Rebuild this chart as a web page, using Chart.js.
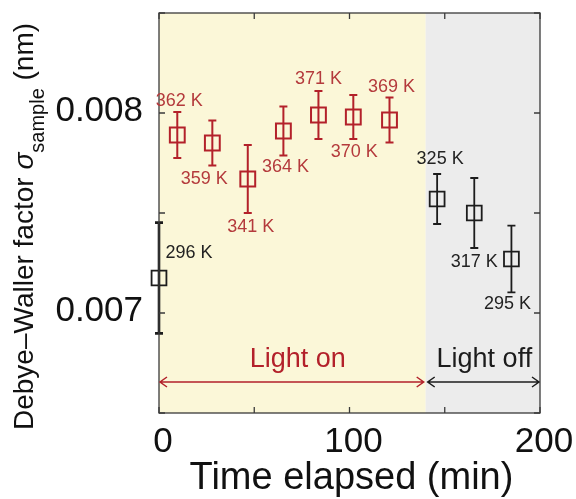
<!DOCTYPE html>
<html><head><meta charset="utf-8">
<script src="https://cdn.jsdelivr.net/npm/chart.js@4.4.0/dist/chart.umd.min.js"></script>
<style>html,body{margin:0;padding:0;background:#fff;}#wrap{width:576px;height:499px;position:relative;}</style>
</head><body><div id="wrap"><canvas id="c"></canvas></div>
<script>
// ---- data ----
const onTimes   = [9.6, 28, 46.6, 65.3, 83.7, 102, 121];
const onValues  = [0.00789, 0.00785, 0.00767, 0.00791, 0.00799, 0.00798, 0.007965];
const onErrors  = [0.000115, 0.000113, 0.00017, 0.000122, 0.00012, 0.00011, 0.000113];
const onLabels  = ['362 K', '359 K', '341 K', '364 K', '371 K', '370 K', '369 K'];
const offTimes  = [0, 146, 165.5, 185];
const offValues = [0.007175, 0.00757, 0.0075, 0.00727];
const offErrors = [0.000277, 0.000125, 0.000175, 0.000167];
const offLabels = ['296 K', '325 K', '317 K', '295 K'];
const xTickValues = [0, 50, 100, 150, 200];
const xTickLabels = ['0', '', '100', '', '200'];
const yTickValues = [0.0065, 0.007, 0.0075, 0.008, 0.0085];
const yTickLabels = ['', '0.007', '', '0.008', ''];
const phaseNames = ['Light on', 'Light off'];
const phaseStart = [0, 140];
const phaseEnd   = [140, 200];

// ---- layout / style ----
const F = "'Liberation Sans', Arial, Helvetica, sans-serif";
const RED = '#b3212a', RED_T = '#b43a3c', BLK = '#1c1c1c';
const onLabelOffsets  = [[2,-34],[-8,36],[3,48],[2,36],[0,-36],[1,35],[2,-33]];
const offLabelOffsets = [[30,-25],[3,-40],[0,49],[-4,45]];
const phaseFill = ['#fbf7d8', '#ececec'];
const phaseColor = [RED, BLK];
const phaseTextDx = [6, 1];

const decor = {
  id: 'decor',
  beforeDraw(chart) {
    const {ctx, chartArea: a, scales: {x}} = chart;
    ctx.save();
    phaseStart.forEach((s, i) => {
      const x0 = x.getPixelForValue(s), x1 = x.getPixelForValue(phaseEnd[i]);
      ctx.fillStyle = phaseFill[i];
      ctx.fillRect(x0, a.top, x1 - x0, a.bottom - a.top);
    });
    ctx.restore();
  },
  beforeDatasetsDraw(chart) {
    const {ctx, scales: {x, y}} = chart;
    ctx.save();
    const bars = (ts, vs, es, color, widthFirst, width) => {
      ts.forEach((t, i) => {
        const px = x.getPixelForValue(t);
        const y0 = y.getPixelForValue(vs[i] + es[i]);
        const y1 = y.getPixelForValue(vs[i] - es[i]);
        ctx.strokeStyle = color;
        ctx.lineWidth = i === 0 ? widthFirst : width;
        ctx.beginPath();
        ctx.moveTo(px, y0); ctx.lineTo(px, y1);
        ctx.moveTo(px - 4, y0); ctx.lineTo(px + 4, y0);
        ctx.moveTo(px - 4, y1); ctx.lineTo(px + 4, y1);
        ctx.stroke();
      });
    };
    bars(onTimes, onValues, onErrors, RED, 2, 2);
    bars(offTimes, offValues, offErrors, BLK, 2.6, 1.8);
    ctx.restore();
  },
  afterDraw(chart) {
    const {ctx, chartArea: a, scales: {x, y}} = chart;
    ctx.save();
    // frame
    ctx.strokeStyle = '#3a3a3a';
    ctx.lineWidth = 1.3;
    ctx.strokeRect(a.left, a.top, a.right - a.left, a.bottom - a.top);
    // inward ticks
    ctx.beginPath();
    xTickValues.forEach(v => {
      const px = x.getPixelForValue(v);
      ctx.moveTo(px, a.bottom); ctx.lineTo(px, a.bottom - 6);
      ctx.moveTo(px, a.top); ctx.lineTo(px, a.top + 6);
    });
    yTickValues.forEach(v => {
      const py = y.getPixelForValue(v);
      ctx.moveTo(a.left, py); ctx.lineTo(a.left + 6, py);
      ctx.moveTo(a.right, py); ctx.lineTo(a.right - 6, py);
    });
    ctx.stroke();
    // temperature labels
    ctx.font = '18px ' + F;
    ctx.textAlign = 'center';
    ctx.textBaseline = 'middle';
    const lab = (ts, vs, ls, offs, color) => {
      ctx.fillStyle = color;
      ts.forEach((t, i) => {
        ctx.fillText(ls[i], x.getPixelForValue(t) + offs[i][0], y.getPixelForValue(vs[i]) + offs[i][1]);
      });
    };
    lab(onTimes, onValues, onLabels, onLabelOffsets, RED_T);
    lab(offTimes, offValues, offLabels, offLabelOffsets, '#222');
    // phase arrows + names
    const ay = a.bottom - 31;
    phaseNames.forEach((name, i) => {
      const x0 = x.getPixelForValue(phaseStart[i]) + (i ? 2 : 1);
      const x1 = x.getPixelForValue(phaseEnd[i]) - (i ? 1 : 2);
      ctx.strokeStyle = phaseColor[i];
      ctx.lineWidth = 1.5;
      ctx.beginPath();
      ctx.moveTo(x0, ay); ctx.lineTo(x1, ay);
      ctx.moveTo(x0 + 7, ay - 5); ctx.lineTo(x0, ay); ctx.lineTo(x0 + 7, ay + 5);
      ctx.moveTo(x1 - 7, ay - 5); ctx.lineTo(x1, ay); ctx.lineTo(x1 - 7, ay + 5);
      ctx.stroke();
      ctx.fillStyle = phaseColor[i];
      ctx.font = '27px ' + F;
      ctx.textAlign = 'center';
      ctx.textBaseline = 'alphabetic';
      ctx.fillText(name, (x0 + x1) / 2 + phaseTextDx[i], a.bottom - 46);
    });
    // x title
    ctx.fillStyle = '#111';
    ctx.font = '38px ' + F;
    ctx.textAlign = 'center';
    ctx.textBaseline = 'alphabetic';
    ctx.fillText('Time elapsed (min)', (a.left + a.right) / 2 + 2, 489);
    // y title with subscript
    ctx.translate(33, 430);
    ctx.rotate(-Math.PI / 2);
    ctx.textAlign = 'left';
    let cx = 0;
    const part = (txt, font, dy) => { ctx.font = font; ctx.fillText(txt, cx, dy); cx += ctx.measureText(txt).width; };
    part('Debye\u2013Waller factor ', '28px ' + F, 0);
    part('\u03C3', 'italic 28px ' + F, 0);
    part('sample', '20px ' + F, 11);
    part(' (nm)', '28px ' + F, 0);
    ctx.restore();
  }
};

const mk = (ts, vs) => ts.map((t, i) => ({x: t, y: vs[i]}));

new Chart(document.getElementById('c'), {
  type: 'scatter',
  data: {
    datasets: [
      {data: mk(onTimes, onValues), borderColor: RED, backgroundColor: 'rgba(0,0,0,0)', pointStyle: 'rect', pointRadius: 10.5, borderWidth: 2, clip: false},
      {data: mk(offTimes, offValues), borderColor: BLK, backgroundColor: 'rgba(0,0,0,0)', pointStyle: 'rect', pointRadius: 10.5, borderWidth: 1.8, clip: false}
    ]
  },
  options: {
    responsive: true, maintainAspectRatio: false, animation: false, events: [],
    layout: {padding: {top: 13, right: 36, left: 0, bottom: 0}},
    plugins: {legend: {display: false}, tooltip: {enabled: false}},
    scales: {
      x: {
        type: 'linear', min: 0, max: 200,
        afterBuildTicks: s => { s.ticks = xTickValues.map(v => ({value: v})); },
        afterFit: s => { s.height = 86; s.paddingLeft = 0; s.paddingRight = 0; },
        grid: {display: false, drawTicks: false}, border: {display: false},
        ticks: {font: {family: F, size: 35}, color: '#111', padding: 8, labelOffset: 4, maxRotation: 0, autoSkip: false,
                callback: (v, i) => xTickLabels[i]}
      },
      y: {
        type: 'linear', min: 0.0065, max: 0.0085,
        afterBuildTicks: s => { s.ticks = yTickValues.map(v => ({value: v})); },
        afterFit: s => { s.width = 159; s.paddingTop = 0; s.paddingBottom = 0; },
        grid: {display: false, drawTicks: false}, border: {display: false},
        ticks: {font: {family: F, size: 35}, color: '#111', padding: 16, labelOffset: -2, autoSkip: false,
                callback: (v, i) => yTickLabels[i]}
      }
    }
  },
  plugins: [decor]
});
</script></body></html>
